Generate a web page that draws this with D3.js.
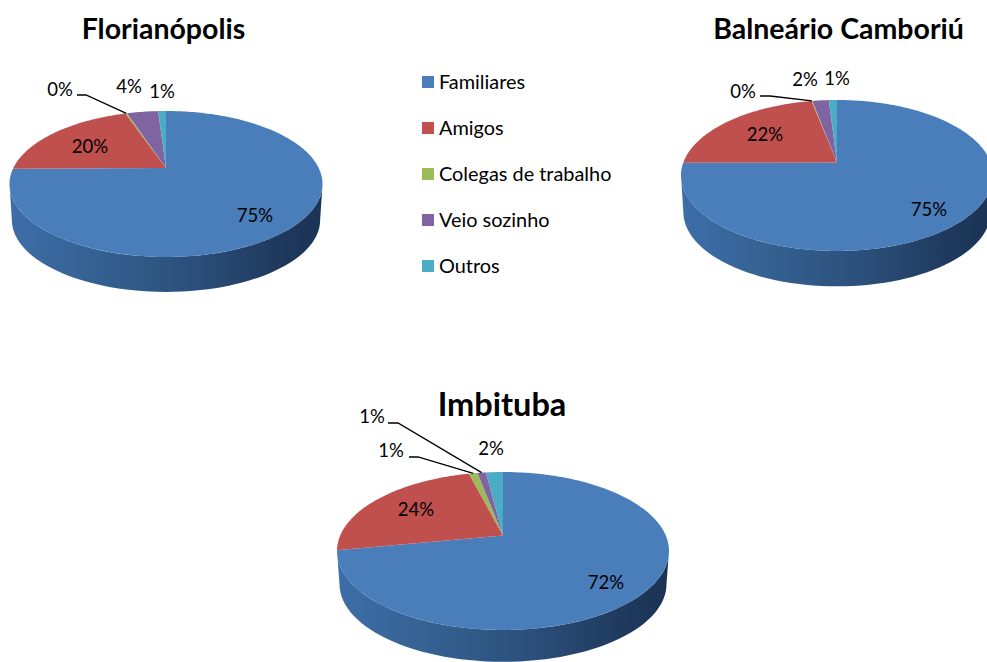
<!DOCTYPE html>
<html lang="pt">
<head>
<meta charset="utf-8">
<title>Companhia de viagem por destino</title>
<script src="https://cdn.jsdelivr.net/npm/d3@7/dist/d3.min.js"></script>
<style>
  html, body { margin: 0; padding: 0; background: #fff; overflow: hidden; }
  svg { display: block; font-family: Lato, "Open Sans", sans-serif; }
</style>
</head>
<body>
<svg id="chart" width="987" height="662"></svg>
<script>
// Share of visitors by travel company, in percent
const categories = ["Familiares", "Amigos", "Colegas de trabalho", "Veio sozinho", "Outros"];
const florianopolis = [75, 20, 0.2, 4, 1];
const balneario = [75, 22, 0.1, 2, 1];
const imbituba = [72, 24, 1, 1, 2];
const colors = ["#4a7ebb", "#c0504d", "#9bbb59", "#8064a2", "#4bacc6"];

// Geometry of each tilted disc and where its labels sit
const charts = [
  {
    title: "Florianópolis", titleX: 163.5, titleY: 39, titleSize: 28.5, values: florianopolis,
    cx: 166, cy: 184, rx: 156.5, ry: 73, apexY: 168, depth: 36,
    labels: [[255, 216], [90, 147], [60, 90], [129, 87], [162, 92]],
    leaders: { 2: [[77, 95], [86, 95]] }
  },
  {
    title: "Balneário Camboriú", titleX: 838.5, titleY: 39, titleSize: 28.5, values: balneario,
    cx: 837, cy: 175.5, rx: 156, ry: 75.5, apexY: 162.5, depth: 36.5,
    labels: [[929, 210], [765, 135], [743, 92], [805, 80], [837, 79]],
    leaders: { 2: [[760, 96], [770, 96]] }
  },
  {
    title: "Imbituba", titleX: 502, titleY: 416, titleSize: 32.5, values: imbituba,
    cx: 503, cy: 551, rx: 166, ry: 79, apexY: 535.5, depth: 33,
    labels: [[606, 583], [416, 510], [391, 451], [372, 417], [491, 449]],
    leaders: { 2: [[409, 457], [418, 457]], 3: [[388, 423], [398, 423]] }
  }
];

const svg = d3.select("#chart");
const defs = svg.append("defs");

// Wall shading: light on the left, falling to navy on the right
const wall = defs.append("linearGradient").attr("id", "wall");
[[0, "#3d6ea8"], [0.3, "#33608f"], [0.6, "#2b4e7a"], [0.85, "#1f3a5e"], [1, "#1b3353"]]
  .forEach(([o, c]) => wall.append("stop").attr("offset", o).attr("stop-color", c));

const pie = d3.pie().sort(null);
const line = d3.line();
const pct = v => `${Math.round(v)}%`;

charts.forEach(ch => {
  const g = svg.append("g");
  const C = (ch.apexY - ch.cy) / ch.ry;

  // Perspective mapping of a pie angle onto the rim of the tilted ellipse;
  // the disc centre lands on the apex, above the ellipse's geometric middle.
  const rim = a => {
    const u = Math.sin(a), v = -Math.cos(a), w = 1 + C * v;
    return [ch.cx + ch.rx * Math.sqrt(1 - C * C) * u / w, ch.cy + ch.ry * (v + C) / w];
  };

  // Lower wall of the disc, between the outer edges of the two ellipses
  const front = d3.range(0, 181, 3).map(d => d * Math.PI / 180);
  const upper = front.map(t => [ch.cx + ch.rx * Math.cos(t), ch.cy + ch.ry * Math.sin(t)]);
  const lower = front.map(t => [ch.cx + ch.rx * 0.985 * Math.cos(t), ch.cy + ch.depth + ch.ry * 0.985 * Math.sin(t)]);
  g.append("path")
    .attr("d", line([...upper, ...lower.reverse()]) + "Z")
    .attr("fill", "url(#wall)");

  // Top face slices
  const arcs = pie(ch.values);
  g.selectAll("path.slice").data(arcs).join("path")
    .attr("class", "slice")
    .attr("fill", (d, i) => colors[i])
    .attr("d", d => {
      const n = Math.max(2, Math.ceil((d.endAngle - d.startAngle) / 0.02));
      const pts = d3.range(n + 1).map(k => rim(d.startAngle + (d.endAngle - d.startAngle) * k / n));
      return line([[ch.cx, ch.apexY], ...pts]) + "Z";
    });

  // Leader lines for labels of the narrow slices
  Object.entries(ch.leaders).forEach(([i, elbow]) => {
    const d = arcs[+i];
    g.append("path")
      .attr("d", line([...elbow, rim((d.startAngle + d.endAngle) / 2)]))
      .attr("fill", "none").attr("stroke", "#000").attr("stroke-width", 1.3);
  });

  // Value labels
  g.selectAll("text.value").data(arcs).join("text")
    .attr("class", "value")
    .attr("x", (d, i) => ch.labels[i][0])
    .attr("y", (d, i) => ch.labels[i][1])
    .attr("dy", "0.35em")
    .attr("text-anchor", "middle")
    .attr("font-size", 18.5)
    .attr("fill", "#000")
    .text(d => pct(d.value));

  // Chart title
  g.append("text")
    .attr("x", ch.titleX).attr("y", ch.titleY)
    .attr("text-anchor", "middle")
    .attr("font-size", ch.titleSize).attr("font-weight", 700)
    .attr("fill", "#000")
    .text(ch.title);
});

// Shared legend between the two upper charts
const rowY = d3.scalePoint().domain(categories).range([82, 266]);
const legend = svg.append("g").selectAll("g").data(categories).join("g")
  .attr("transform", d => `translate(422,${rowY(d)})`);
legend.append("rect")
  .attr("y", -6).attr("width", 12).attr("height", 12)
  .attr("fill", (d, i) => colors[i]);
legend.append("text")
  .attr("x", 17).attr("dy", "0.35em")
  .attr("font-size", 19.9).attr("fill", "#000")
  .text(d => d);
</script>
</body>
</html>
